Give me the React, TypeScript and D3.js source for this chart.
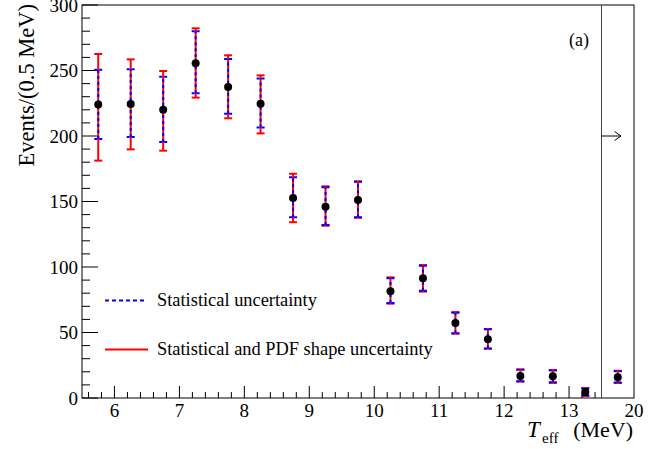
import React from "react";
import * as d3 from "d3";

const binCenters = [5.75, 6.25, 6.75, 7.25, 7.75, 8.25, 8.75, 9.25, 9.75, 10.25, 10.75, 11.25, 11.75, 12.25, 12.75, 13.25, 13.75];
const events = [224, 224.4, 220, 255.5, 237.4, 224.7, 152.7, 146, 151.2, 81.4, 91.4, 57.3, 44.8, 16.8, 16.6, 4.6, 15.8];
const statHigh = [250.6, 250.9, 245.3, 279.9, 258.8, 243.8, 168.5, 160.8, 165.1, 91.5, 101, 65, 52.5, 21.5, 21, 7.2, 20.5];
const statLow = [197.7, 199.2, 195.4, 232.6, 217, 206.4, 137.9, 132, 137.9, 72.5, 81.8, 49.5, 37.8, 12.8, 12, 2, 11.8];
const totHigh = [262.6, 258.5, 249.6, 282.2, 261.6, 246.3, 171.2, 161.6, 165.4, 92.1, 101.5, 65.6, 52.7, 21.9, 21.4, 7.6, 20.8];
const totLow = [181.2, 189.8, 188.8, 229.3, 213.5, 202, 134.2, 131.5, 137.6, 72, 81.2, 49.1, 37.6, 12.5, 11.5, 1.5, 11.5];

const xTickValues = [6, 7, 8, 9, 10, 11, 12, 13, 14];
const xTickLabels = ["6", "7", "8", "9", "10", "11", "12", "13", "20"];
const yTickValues = [0, 50, 100, 150, 200, 250, 300];
const legendLabels = ["Statistical uncertainty", "Statistical and PDF shape uncertainty"];

const W = 672;
const H = 449;
const L = 82, R = 634, T = 5, B = 398;
const FONT = "'Liberation Serif', 'Times New Roman', serif";

export default function App() {
  const x = d3.scaleLinear().domain([5.5, 14]).range([L, R]);
  const y = d3.scaleLinear().domain([0, 300]).range([B, T]);

  const xMinor: number[] = [];
  for (let v = 5.6; v < 13.45; v += 0.2) {
    const r = Math.round(v * 10) / 10;
    if (Math.abs(r - Math.round(r)) > 1e-6) xMinor.push(r);
  }
  const yMinor: number[] = [];
  for (let v = 10; v < 300; v += 10) if (v % 50 !== 0) yMinor.push(v);

  const cap = 4;
  const xBreak = x(13.5);

  return (
    <svg width={W} height={H} style={{ position: "absolute", left: 0, top: 0, background: "#fff" }} fontFamily={FONT}>
      <rect x={0} y={0} width={W} height={H} fill="#fff" />
      {/* frame */}
      <rect x={L} y={T} width={R - L} height={B - T} fill="none" stroke="#000" strokeWidth={1} />
      {/* break line */}
      <line x1={xBreak} x2={xBreak} y1={T} y2={B} stroke="#444" strokeWidth={1} />
      {/* arrow */}
      <line x1={xBreak} x2={xBreak + 19} y1={y(200)} y2={y(200)} stroke="#000" strokeWidth={1} />
      <polyline points={`${xBreak + 13},${y(200) - 4.5} ${xBreak + 19.5},${y(200)} ${xBreak + 13},${y(200) + 4.5}`} fill="none" stroke="#000" strokeWidth={1} />

      {/* y ticks */}
      {yTickValues.map((v) => (
        <g key={"yt" + v}>
          <line x1={L} x2={L + 16} y1={y(v)} y2={y(v)} stroke="#000" strokeWidth={1} />
          <text x={L - 4} y={y(v)} dy="0.35em" textAnchor="end" fontSize={19}>{v}</text>
        </g>
      ))}
      {yMinor.map((v) => (
        <line key={"ym" + v} x1={L} x2={L + 8} y1={y(v)} y2={y(v)} stroke="#000" strokeWidth={1} />
      ))}

      {/* x ticks */}
      {xTickValues.map((v, i) => (
        <g key={"xt" + v}>
          {v < 14 && <line x1={x(v)} x2={x(v)} y1={B} y2={B - 12} stroke="#000" strokeWidth={1} />}
          <text x={x(v)} y={417} textAnchor="middle" fontSize={19}>{xTickLabels[i]}</text>
        </g>
      ))}
      {xMinor.map((v) => (
        <line key={"xm" + v} x1={x(v)} x2={x(v)} y1={B} y2={B - 6} stroke="#000" strokeWidth={1} />
      ))}

      {/* axis titles */}
      <text transform={`translate(34, 4) rotate(-90)`} textAnchor="end" fontSize={22.5}>Events/(0.5 MeV)</text>
      <text x={527} y={437} fontSize={23} fontStyle="italic">T</text>
      <text x={542} y={443} fontSize={15}>eff</text>
      <text x={633} y={437} textAnchor="end" fontSize={22}>(MeV)</text>
      <text x={589} y={46} textAnchor="end" fontSize={18}>(a)</text>

      {/* error bars */}
      {binCenters.map((c, i) => {
        const cx = x(c);
        return (
          <g key={"eb" + i}>
            <line x1={cx} x2={cx} y1={y(totLow[i])} y2={y(totHigh[i])} stroke="#ff0000" strokeWidth={2} />
            <line x1={cx - cap} x2={cx + cap} y1={y(totLow[i])} y2={y(totLow[i])} stroke="#ff0000" strokeWidth={2} />
            <line x1={cx - cap} x2={cx + cap} y1={y(totHigh[i])} y2={y(totHigh[i])} stroke="#ff0000" strokeWidth={2} />
            <line x1={cx} x2={cx} y1={y(statLow[i])} y2={y(statHigh[i])} stroke="#0000ff" strokeWidth={2} strokeDasharray="3,3" />
            <line x1={cx - cap} x2={cx + cap} y1={y(statLow[i])} y2={y(statLow[i])} stroke="#0000ff" strokeWidth={2} strokeDasharray="3,2" />
            <line x1={cx - cap} x2={cx + cap} y1={y(statHigh[i])} y2={y(statHigh[i])} stroke="#0000ff" strokeWidth={2} strokeDasharray="3,2" />
            <circle cx={cx} cy={y(events[i])} r={4} fill="#000" />
          </g>
        );
      })}

      {/* legend */}
      <line x1={105} x2={147} y1={300.5} y2={300.5} stroke="#0000ff" strokeWidth={2} strokeDasharray="4,3" />
      <text x={157} y={306} fontSize={18.4}>{legendLabels[0]}</text>
      <line x1={105} x2={148} y1={349.5} y2={349.5} stroke="#ff0000" strokeWidth={2} />
      <text x={157} y={355} fontSize={18.4}>{legendLabels[1]}</text>
    </svg>
  );
}
